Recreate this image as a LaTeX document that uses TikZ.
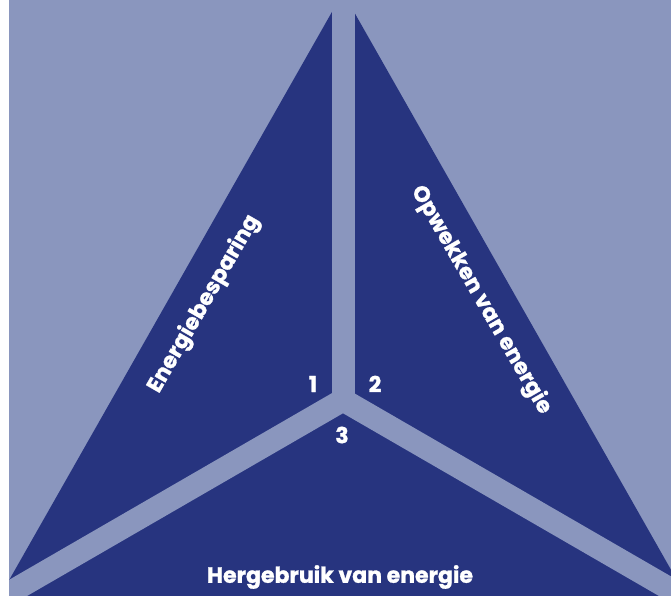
\documentclass[tikz,border=0pt]{standalone}
\usepackage{fontspec}
\setmainfont{Poppins}[BoldFeatures={FakeBold=1.2}]
\definecolor{navy}{HTML}{27347F}
\definecolor{haze}{HTML}{8A96BE}
\newcommand{\spoke}[1]{\draw[haze,line width=23pt] (c) -- (#1);}
\newcommand{\lbl}[4]{\node[text=white,inner sep=0pt,font=\bfseries\fontsize{22}{26}\selectfont,rotate=#3] (#1) at (#2) {#4};}

\begin{document}
\begin{tikzpicture}[x=1pt,y=-1pt]
\useasboundingbox (0,0) rectangle (671,596);
\fill[haze] (9,0) rectangle (671,596);
\clip (9,0) rectangle (671,596);
\coordinate (c) at (343,400);
\coordinate (top) at (343,-40);
\coordinate (sw) at (-98,655);
\coordinate (se) at (784,655);
\fill[navy] (343,-7.5) -- (-59,700) -- (745,700) -- cycle;
\spoke{top}
\spoke{sw}
\spoke{se}
\lbl{save}{204,304}{60}{Energiebesparing}
\lbl{make}{481,300}{-60}{Opwekken van energie}
\lbl{reuse}{340,577}{0}{Hergebruik van energie}
\lbl{one}{313,384}{0}{1}
\lbl{two}{375,384}{0}{2}
\lbl{three}{342,435}{0}{3}
\end{tikzpicture}
\end{document}
